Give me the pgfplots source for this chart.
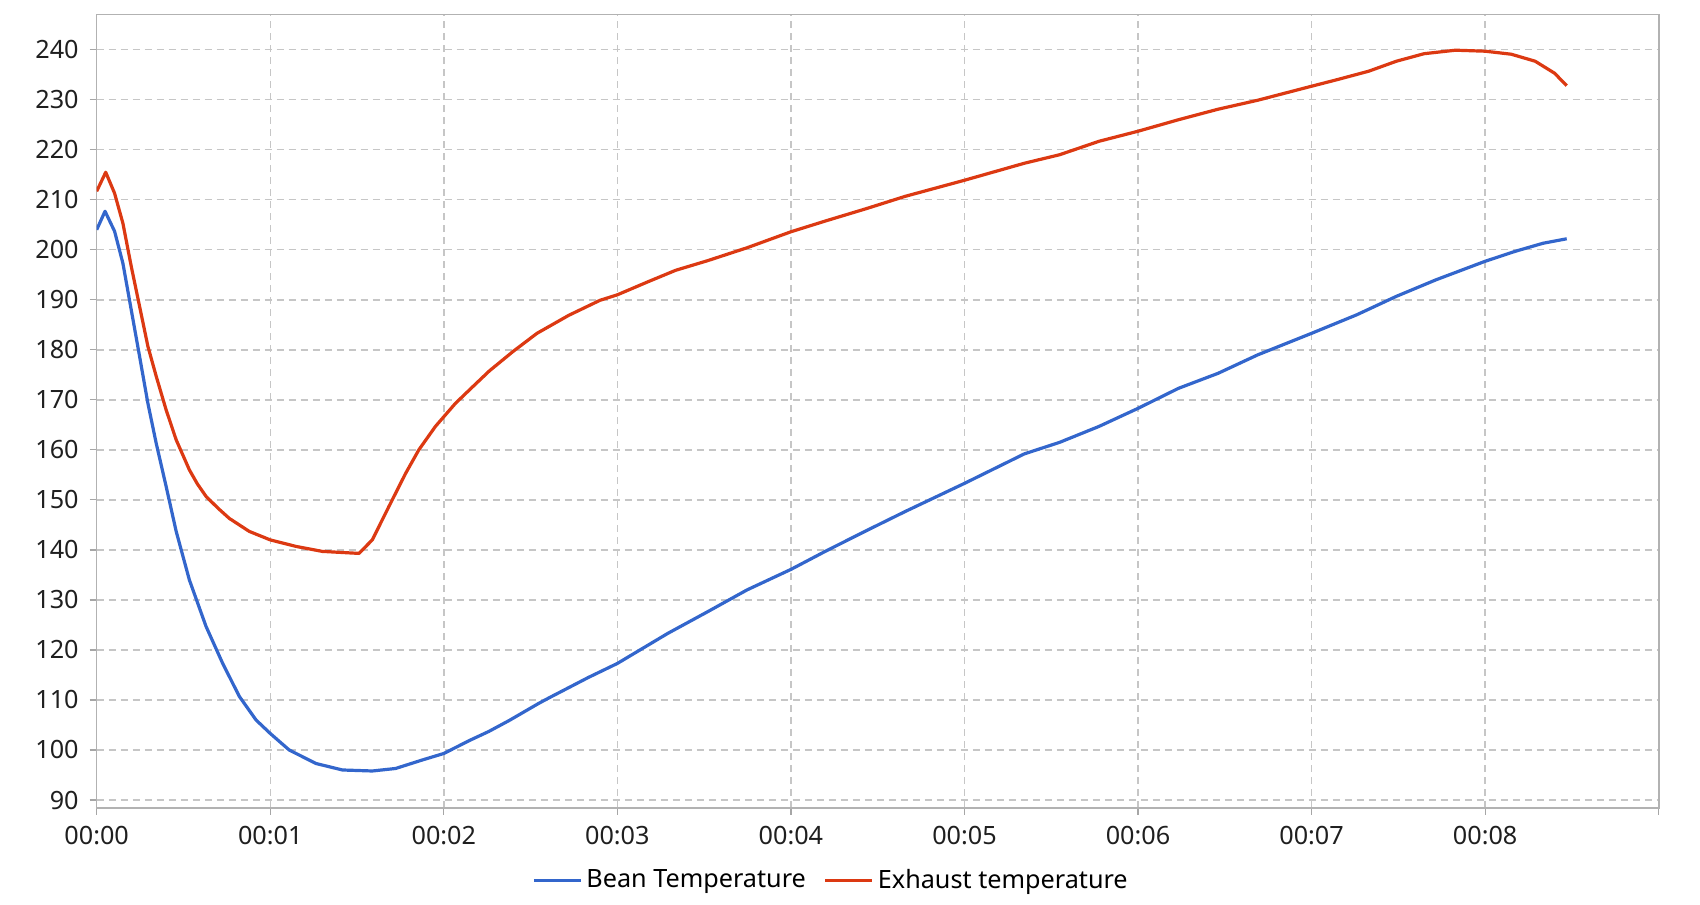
\documentclass[border=0pt]{standalone}
\usepackage{pgfplots}
\pgfplotsset{compat=1.18}
\usepackage{fontspec}
\setmainfont{Noto Sans}
\definecolor{beanblue}{HTML}{3366CC}
\definecolor{exhred}{HTML}{DC3912}
\begin{document}
\begin{tikzpicture}
\path[use as bounding box] (0,0) rectangle (850pt,452pt);
\begin{axis}[
  at={(48.35pt,48.15pt)}, anchor=south west,
  scale only axis, width=781pt, height=396.5pt,
  xmin=0, xmax=9, ymin=88.46, ymax=247,
  xtick={0,1,2,3,4,5,6,7,8,9},
  xticklabels={00:00,00:01,00:02,00:03,00:04,00:05,00:06,00:07,00:08,},
  ytick={90,100,110,120,130,140,150,160,170,180,190,200,210,220,230,240},
  /pgf/number format/assume math mode=true,
  tick label style={font=\fontsize{12.6}{14}\selectfont, black!88},
  xtick pos=bottom, ytick pos=left,
  tick align=outside, major tick length=3.5pt,
  tick style={gray!70, line width=0.6pt},
  axis line style={gray!60, line width=0.8pt},
  grid=major,
  major grid style={gray!45, line width=0.7pt, dash pattern=on 3.5pt off 2.5pt},
  xticklabel style={yshift=-2pt},
  yticklabel style={xshift=-2pt},
  legend columns=2,
  legend style={at={(axis description cs:0.4708,-0.0912)}, anchor=center, draw=none, fill=none,
    font=\fontsize{12.6}{14}\selectfont, /tikz/every even column/.append style={column sep=7pt}},
  legend image code/.code={\draw[#1, line width=1.5pt] (0pt,0pt) -- (23.5pt,0pt);},
]
\addplot[beanblue, line width=1.6pt, line join=round] coordinates {
(0.00,204.0) (0.048,207.7) (0.103,203.7) (0.151,197.3) (0.199,188.0) (0.247,178.7)
(0.295,169.3) (0.343,161.3) (0.40,152.7) (0.458,143.7) (0.534,134.0) (0.63,124.7)
(0.726,117.3) (0.822,110.7) (0.918,106.0) (1.0,103.3) (1.109,100.0) (1.263,97.3)
(1.416,96.0) (1.588,95.8) (1.722,96.3) (1.876,98.0) (2.0,99.3) (2.148,101.9)
(2.259,103.7) (2.377,105.9) (2.546,109.3) (2.605,110.4) (2.833,114.5) (3.0,117.3)
(3.29,123.3) (3.518,127.6) (3.747,132.0) (4.0,136.1) (4.203,139.8) (4.432,143.8)
(4.66,147.7) (5.0,153.3) (5.345,159.2) (5.548,161.5) (5.776,164.7) (6.0,168.3)
(6.233,172.3) (6.461,175.3) (6.69,179.0) (7.0,183.3) (7.26,187.0) (7.489,190.7)
(7.717,194.0) (8.0,197.7) (8.174,199.7) (8.333,201.3) (8.47,202.2)
};
\addlegendentry{Bean Temperature}
\addplot[exhred, line width=1.6pt, line join=round] coordinates {
(0.00,211.7) (0.052,215.5) (0.103,211.3) (0.151,205.3) (0.199,196.7) (0.247,188.7)
(0.295,180.7) (0.343,174.7) (0.40,168.0) (0.458,162.0) (0.534,156.0) (0.58,153.2) (0.63,150.7)
(0.70,148.3) (0.764,146.3) (0.879,143.7) (1.0,142.0) (1.148,140.7) (1.30,139.7) (1.511,139.3)
(1.588,142.0) (1.684,148.7) (1.78,155.3) (1.856,160.0) (1.952,164.7) (2.067,169.3)
(2.163,172.5) (2.263,175.8) (2.40,179.7) (2.537,183.3) (2.72,186.9) (2.90,189.9)
(3.0,191.0) (3.176,193.6) (3.336,195.9) (3.518,197.8) (3.747,200.4) (4.0,203.6)
(4.203,205.8) (4.432,208.2) (4.66,210.7) (5.0,213.9) (5.345,217.3) (5.548,219.0)
(5.776,221.7) (6.0,223.7) (6.233,226.0) (6.461,228.1) (6.69,229.9) (7.0,232.7)
(7.146,234.0) (7.329,235.7) (7.489,237.7) (7.648,239.2) (7.83,239.9) (8.0,239.7)
(8.15,239.1) (8.288,237.7) (8.40,235.3) (8.47,232.8)
};
\addlegendentry{Exhaust temperature}
\end{axis}
\end{tikzpicture}
\end{document}
